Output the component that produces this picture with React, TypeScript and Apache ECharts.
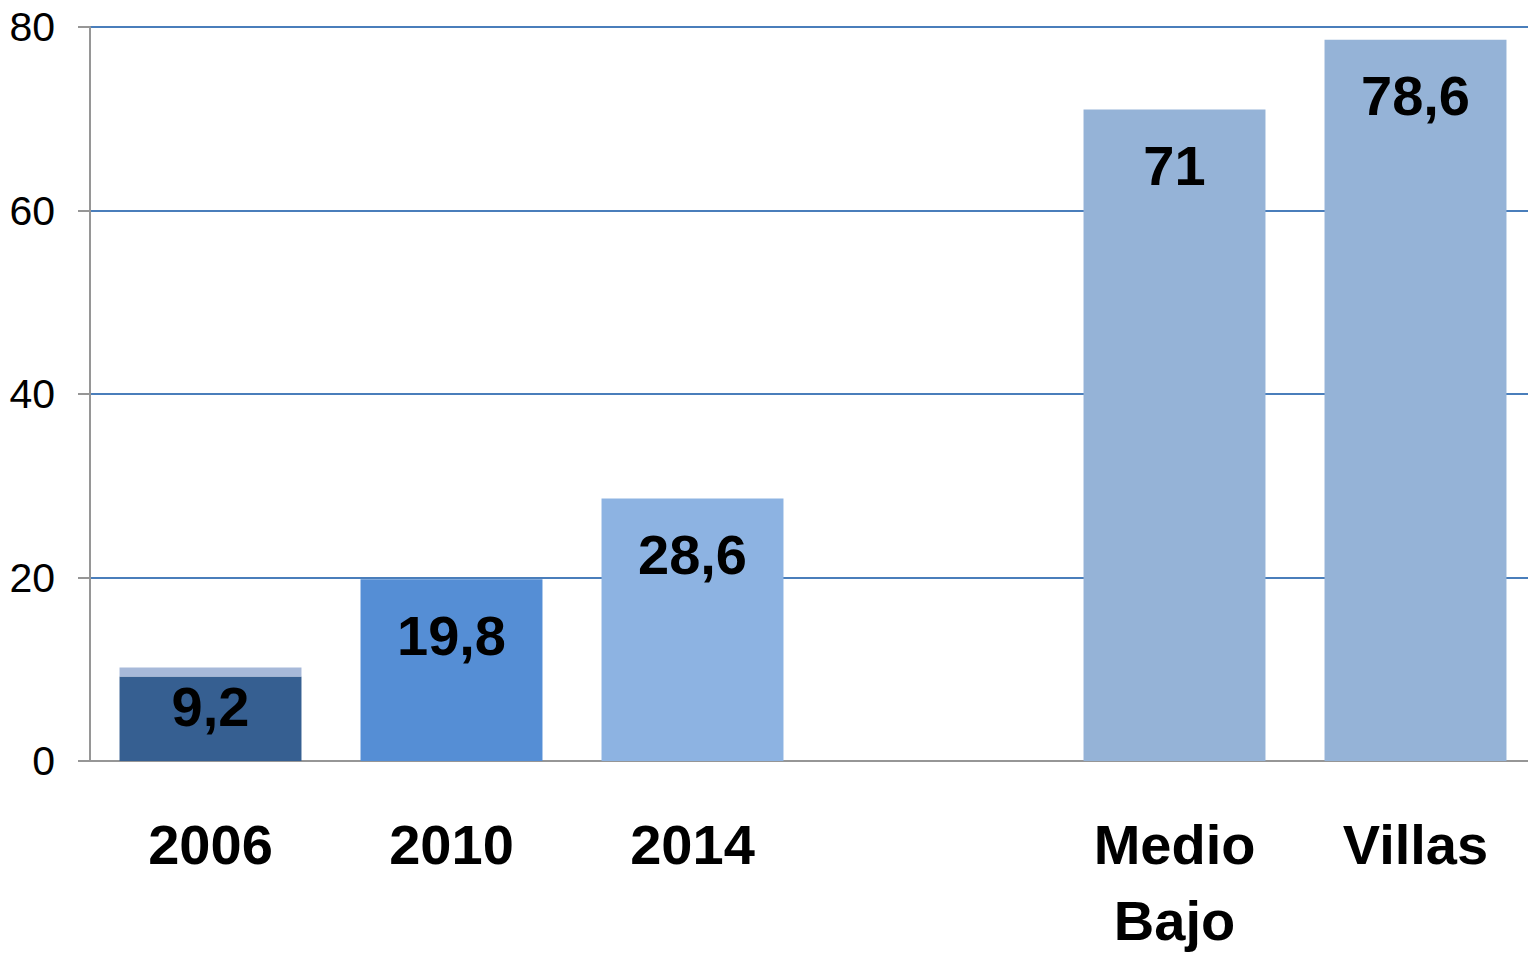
import React, { useEffect, useRef } from "react";
import * as echarts from "echarts";

const categories = ["2006", "2010", "2014", "", "Medio\nBajo", "Villas"];
const mainValues = [9.2, 19.8, 28.6, null, 71, 78.6];
const topStrip = [1.0, null, null, null, null, null];
const barColors = ["#365f91", "#558ed5", "#8db3e2", "#95b3d7", "#95b3d7", "#95b3d7"];
const valueLabels = ["9,2", "19,8", "28,6", "", "71", "78,6"];
const yTicks = [0, 20, 40, 60, 80];

export default function App() {
  const ref = useRef<HTMLDivElement>(null);
  useEffect(() => {
    if (!ref.current) return;
    const chart = echarts.init(ref.current, undefined, { renderer: "svg" });
    const font = "'Liberation Sans', Arial, sans-serif";
    chart.setOption({
      animation: false,
      grid: { left: 90, right: 0, top: 27, bottom: 195 },
      xAxis: {
        type: "category",
        data: categories,
        axisLine: { show: true, lineStyle: { color: "#969696", width: 2 } },
        axisTick: { show: false },
        axisLabel: {
          fontFamily: font,
          fontWeight: "bold",
          fontSize: 56,
          lineHeight: 76,
          color: "#000",
          margin: 45,
          interval: 0,
        },
      },
      yAxis: {
        type: "value",
        min: yTicks[0],
        max: yTicks[yTicks.length - 1],
        interval: 20,
        axisLine: { show: true, lineStyle: { color: "#969696", width: 2 } },
        axisTick: { show: true, length: 12, lineStyle: { color: "#969696", width: 2 } },
        axisLabel: { fontFamily: font, fontSize: 41, color: "#000", margin: 35 },
        splitLine: { show: true, lineStyle: { color: "#4a7ebb", width: 2 } },
      },
      series: [
        {
          type: "bar",
          stack: "s",
          barWidth: "75.5%",
          data: mainValues.map((v, i) => ({
            value: v,
            itemStyle: { color: barColors[i] },
            label: {
              show: v !== null,
              position: "insideTop",
              distance: i === 0 ? 2 : 28,
              formatter: valueLabels[i],
              fontFamily: font,
              fontWeight: "bold",
              fontSize: 56,
              color: "#000",
            },
          })),
          z: 3,
        },
        {
          type: "bar",
          stack: "s",
          barWidth: "75.5%",
          data: topStrip,
          itemStyle: { color: "#a7b9d9" },
          z: 3,
        },
      ],
    });
    return () => chart.dispose();
  }, []);
  return (
    <div
      ref={ref}
      style={{ position: "fixed", left: 0, top: 0, width: 1536, height: 958, background: "#fff" }}
    />
  );
}
